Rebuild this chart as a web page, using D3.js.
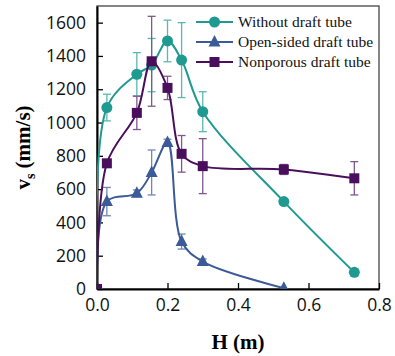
<!DOCTYPE html>
<html>
<head>
<meta charset="utf-8">
<script src="https://cdn.jsdelivr.net/npm/d3@7"></script>
<style>
  body { margin: 0; background: #fff; }
  svg { display: block; }
</style>
</head>
<body>
<svg id="chart" width="395" height="356"></svg>
<script>
const hWithout = [0, 0.028, 0.113, 0.155, 0.2, 0.24, 0.30, 0.53, 0.73];
const vWithout = [0, 1090, 1290, 1345, 1490, 1375, 1065, 525, 100];
const eWithout = [0, 80, 130, 160, 125, 225, 120, 15, 20];

const hOpen = [0, 0.028, 0.113, 0.155, 0.2, 0.24, 0.30, 0.53];
const vOpen = [0, 525, 575, 700, 880, 285, 165, 5];
const eOpen = [0, 85, 20, 135, 20, 45, 15, 0];

const hNonporous = [0, 0.028, 0.113, 0.155, 0.2, 0.24, 0.30, 0.53, 0.73];
const vNonporous = [0, 755, 1058, 1368, 1208, 812, 738, 718, 665];
const eNonporous = [0, 0, 100, 270, 70, 110, 165, 30, 100];

const xTicks = [0, 0.2, 0.4, 0.6, 0.8];
const yTicks = [0, 200, 400, 600, 800, 1000, 1200, 1400, 1600];

const margin = { left: 97, right: 16, top: 6, bottom: 67 };
const width = 395, height = 356;

const series = [
    { name: 'Without draft tube', h: hWithout, v: vWithout, e: eWithout, color: '#1f9a90', errColor: '#5bb8b0', shape: 'circle' },
    { name: 'Open-sided draft tube', h: hOpen, v: vOpen, e: eOpen, color: '#3b5a98', errColor: '#7086b8', shape: 'triangle' },
    { name: 'Nonporous draft tube', h: hNonporous, v: vNonporous, e: eNonporous, color: '#4a0f5c', errColor: '#80578e', shape: 'square' },
];

const svg = d3.select('#chart');

const xScale = d3.scaleLinear().domain([0, 0.8]).range([margin.left, width - margin.right]);
const yScale = d3.scaleLinear().domain([0, 1700]).range([height - margin.bottom, margin.top]);

svg.append('defs').append('clipPath').attr('id', 'plot-clip')
    .append('rect')
    .attr('x', margin.left).attr('y', margin.top)
    .attr('width', width - margin.right - margin.left)
    .attr('height', height - margin.bottom - margin.top);

// frame: top and right border
svg.append('rect')
    .attr('x', margin.left).attr('y', margin.top)
    .attr('width', width - margin.right - margin.left)
    .attr('height', height - margin.bottom - margin.top)
    .attr('fill', 'none')
    .attr('stroke', '#444')
    .attr('stroke-width', 1.3);

const tickFont = "'Open Sans', 'Liberation Sans', sans-serif";

const xAxis = svg.append('g')
    .attr('transform', `translate(0, ${height - margin.bottom})`)
    .call(d3.axisBottom(xScale).tickValues(xTicks).tickFormat(d3.format('.1f')).tickSizeInner(-6).tickSizeOuter(0).tickPadding(10));
xAxis.select('.domain').attr('stroke', '#000').attr('stroke-width', 2);
xAxis.selectAll('.tick line').attr('stroke', '#000').attr('stroke-width', 1.3);
xAxis.selectAll('text').style('font-family', tickFont).style('font-size', '17.5px').attr('fill', '#111');

const yAxis = svg.append('g')
    .attr('transform', `translate(${margin.left}, 0)`)
    .call(d3.axisLeft(yScale).tickValues(yTicks).tickFormat(d3.format('d')).tickSizeInner(-6).tickSizeOuter(0).tickPadding(11));
yAxis.select('.domain').attr('stroke', '#000').attr('stroke-width', 2);
yAxis.selectAll('.tick line').attr('stroke', '#000').attr('stroke-width', 1.3);
yAxis.selectAll('text').style('font-family', tickFont).style('font-size', '17.5px').attr('fill', '#111');

// axis titles
svg.append('text')
    .attr('x', (margin.left + width - margin.right) / 2)
    .attr('y', 349)
    .attr('text-anchor', 'middle')
    .style('font-family', "'Liberation Serif', 'Times New Roman', serif")
    .style('font-weight', 'bold')
    .style('font-size', '21px')
    .text('H (m)');

const yTitle = svg.append('text')
    .attr('transform', `translate(30, ${(margin.top + height - margin.bottom) / 2}) rotate(-90)`)
    .attr('text-anchor', 'middle')
    .style('font-family', "'Liberation Serif', 'Times New Roman', serif")
    .style('font-weight', 'bold')
    .style('font-size', '21px');
yTitle.append('tspan').text('v');
yTitle.append('tspan').attr('dy', 5).style('font-size', '14px').text('s');
yTitle.append('tspan').attr('dy', -5).text(' (mm/s)');

function drawMarker(g, shape, x, y, color) {
    if (shape === 'circle') {
        g.append('circle').attr('cx', x).attr('cy', y).attr('r', 5.5).attr('fill', color);
    } else if (shape === 'square') {
        g.append('rect').attr('x', x - 5).attr('y', y - 5).attr('width', 10).attr('height', 10).attr('fill', color);
    } else {
        g.append('path')
            .attr('d', `M${x},${y - 7}L${x + 6},${y + 4.5}L${x - 6},${y + 4.5}Z`)
            .attr('fill', color);
    }
}

const line = d3.line()
    .x(d => xScale(d[0]))
    .y(d => yScale(d[1]))
    .curve(d3.curveCatmullRom.alpha(0.5));

series.forEach(s => {
    const pts = s.h.map((h, i) => [h, s.v[i], s.e[i]]);
    const g = svg.append('g');

    // error bars
    const errG = g.append('g').attr('stroke', s.errColor).attr('stroke-width', 1.3);
    pts.forEach(p => {
        if (p[2] <= 0) return;
        const cx = xScale(p[0]);
        const y1 = yScale(p[1] + p[2]);
        const y2 = yScale(Math.max(0, p[1] - p[2]));
        errG.append('line').attr('x1', cx).attr('x2', cx).attr('y1', y1).attr('y2', y2);
        errG.append('line').attr('x1', cx - 4).attr('x2', cx + 4).attr('y1', y1).attr('y2', y1);
        errG.append('line').attr('x1', cx - 4).attr('x2', cx + 4).attr('y1', y2).attr('y2', y2);
    });

    const plotG = g.append('g').attr('clip-path', 'url(#plot-clip)');
    plotG.append('path')
        .datum(pts)
        .attr('d', line)
        .attr('fill', 'none')
        .attr('stroke', s.color)
        .attr('stroke-width', 2);

    pts.forEach(p => drawMarker(plotG, s.shape, xScale(p[0]), yScale(p[1]), s.color));
});

// legend
const legend = svg.append('g');
series.forEach((s, i) => {
    const ly = 22 + i * 20;
    legend.append('line')
        .attr('x1', 196).attr('x2', 233)
        .attr('y1', ly).attr('y2', ly)
        .attr('stroke', s.color).attr('stroke-width', 2);
    drawMarker(legend, s.shape, 214.5, ly, s.color);
    legend.append('text')
        .attr('x', 238).attr('y', ly)
        .attr('dy', '0.35em')
        .style('font-family', "'Liberation Serif', 'Times New Roman', serif")
        .style('font-size', '15.5px')
        .attr('fill', '#111')
        .text(s.name);
});
</script>
</body>
</html>
